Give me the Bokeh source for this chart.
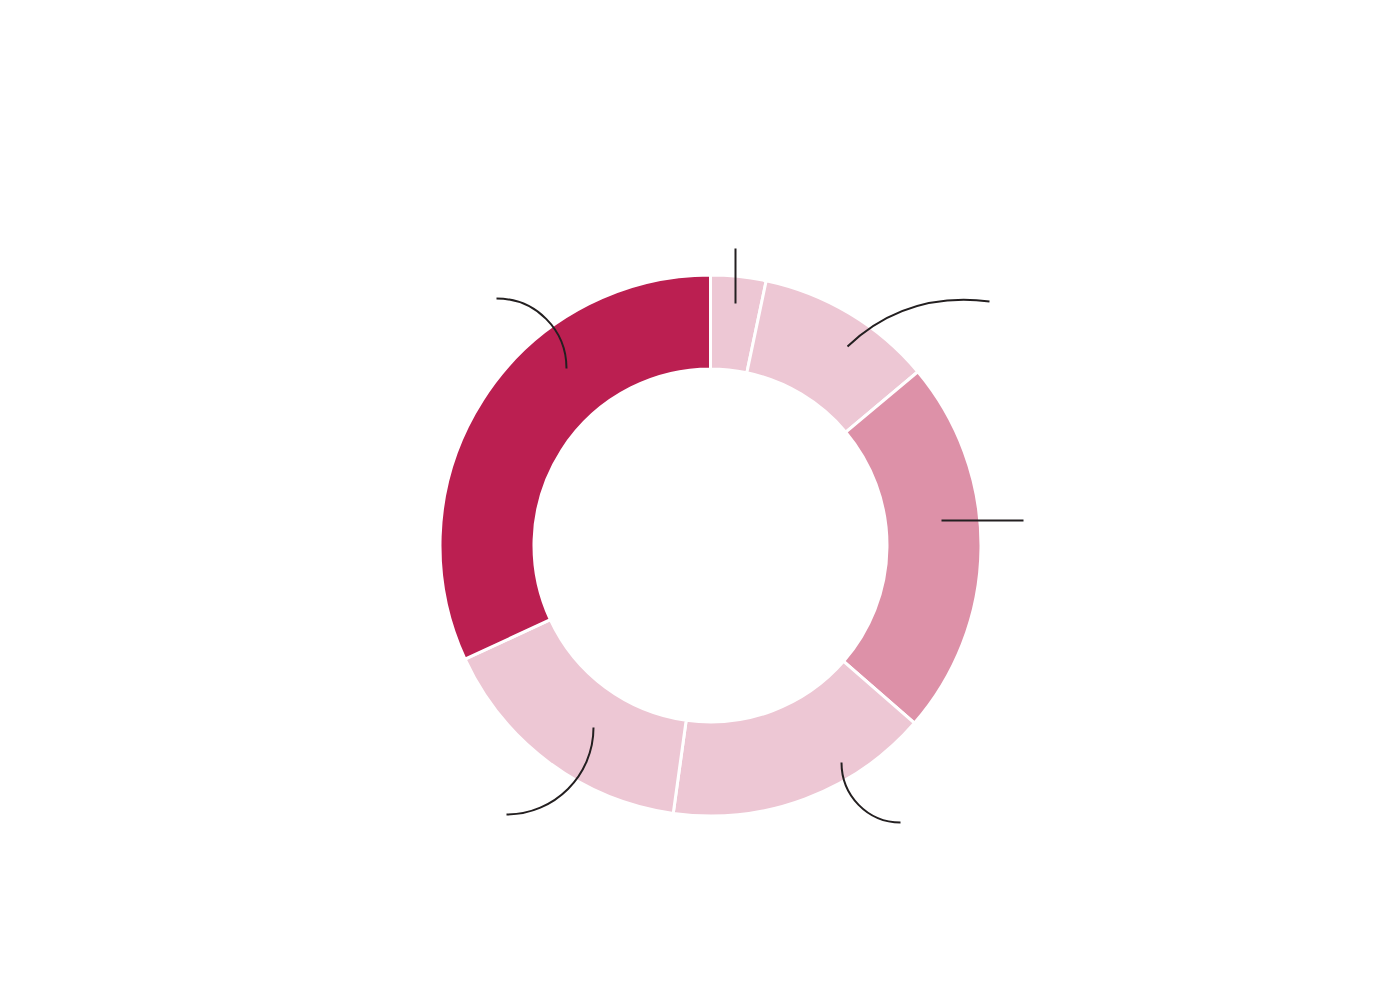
from bokeh.plotting import figure
from bokeh.models import Range1d, ColumnDataSource
from bokeh.embed import file_html
from bokeh.resources import INLINE
import math

# ---- data (share of each segment, clockwise from 12 o'clock) ----
segments = ["A", "B", "C", "D", "E", "F"]
values = [3.3, 10.6, 22.5, 15.8, 15.9, 31.9]
colors = ["#EDC7D4", "#EDC7D4", "#DD91A8", "#EDC7D4", "#EDC7D4", "#BB1F51"]

# ---- layout ----
W, H = 1384, 984
CX, CY = 710, 545          # donut centre in screen pixels
OFF = 0                    # figure origin in the photographed picture
R_OUT, R_IN = 270.5, 176.5

p = figure(width=W, height=H, output_backend="svg", toolbar_location=None,
           x_range=Range1d(OFF - CX, OFF + W - CX), y_range=Range1d(CY - OFF - H, CY - OFF),
           min_border=0, outline_line_color=None, background_fill_color="white",
           border_fill_color="white")
p.axis.visible = False
p.grid.visible = False

total = sum(values)
starts, ends = [], []
acc = 0.0
for v in values:
    a0 = acc / total * 2 * math.pi
    acc += v
    a1 = acc / total * 2 * math.pi
    starts.append(math.pi / 2 - a0)
    ends.append(math.pi / 2 - a1)

src = ColumnDataSource(dict(seg=segments, start=starts, end=ends, color=colors))
p.annular_wedge(x=0, y=0, inner_radius=R_IN, outer_radius=R_OUT,
                start_angle="start", end_angle="end", direction="clock",
                fill_color="color", line_color="white", line_width=3, source=src)

# ---- leader lines (annotation geometry, screen pixels) ----
def tx(sx):
    return sx - CX

def ty(sy):
    return CY - sy

LINE = "#231F20"
LW = 2
straight = [((735, 248), (735, 303)), ((941, 520), (1023, 520))]
for (a, b) in straight:
    p.line([tx(a[0]), tx(b[0])], [ty(a[1]), ty(b[1])], line_color=LINE, line_width=LW)

curves = [
    ((847, 346), (886, 309), (933, 294), (989, 301)),
    ((841, 762), (841, 795), (867, 822), (900, 822)),
    ((593, 727), (593, 775), (554, 814), (506, 814)),
    ((496, 298), (535, 298), (566, 329), (566, 368)),
]
p.bezier(x0=[tx(c[0][0]) for c in curves], y0=[ty(c[0][1]) for c in curves],
         cx0=[tx(c[1][0]) for c in curves], cy0=[ty(c[1][1]) for c in curves],
         cx1=[tx(c[2][0]) for c in curves], cy1=[ty(c[2][1]) for c in curves],
         x1=[tx(c[3][0]) for c in curves], y1=[ty(c[3][1]) for c in curves],
         line_color=LINE, line_width=LW)

open("out.html", "w").write(file_html(p, INLINE))
